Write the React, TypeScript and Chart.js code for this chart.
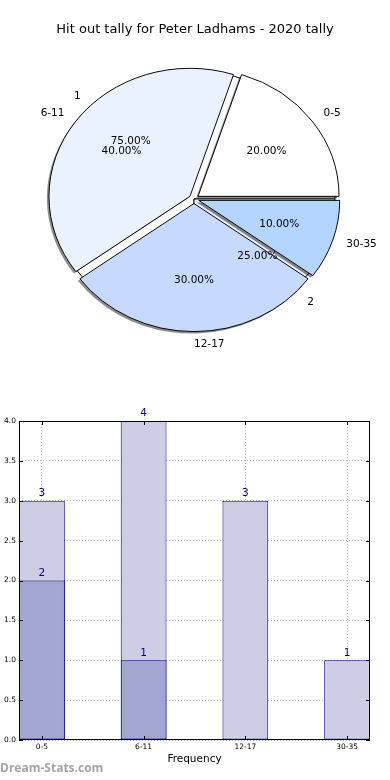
import React, { useEffect, useRef } from 'react';
import { Chart, registerables } from 'chart.js';

Chart.register(...registerables);

// ---- data ----
const chartTitle = 'Hit out tally for Peter Ladhams - 2020 tally';
const rangeLabels = ['0-5', '6-11', '12-17', '30-35'];
const rangeShares = [20, 40, 30, 10];
const tallyLabels = ['1', '2'];
const tallyShares = [75, 25];
const barCategories = ['0-5', '6-11', '12-17', '30-35'];
const barOuterValues = [3, 4, 3, 1];
const barInnerValues: (number | null)[] = [2, 1, null, null];
const barAxisTitle = 'Frequency';
const watermarkText = 'Dream-Stats.com';

// ---- styles ----
const FONT = '"DejaVu Sans", "Liberation Sans", sans-serif';
const rangeColors = ['#ffffff', '#eaf1ff', '#c6d9ff', '#b3d5ff'];
const tallyColors = ['#ffffff', '#eaf1ff'];
const SQUASH = 0.908;
const PIE_RADIUS = 141;
const EXPLODE = 5;
const NAVY = '#000080';

function pieTransform(ctx: CanvasRenderingContext2D, el: any) {
  ctx.translate(el.x, el.y);
  ctx.scale(1, -SQUASH);
  ctx.translate(-el.x, -el.y);
}

// squashes the pie into the reference's ellipse, explodes slices, adds a shadow
const ellipsePlugin = {
  id: 'ellipse',
  beforeDatasetsDraw(chart: any, _args: any, opts: any) {
    const ctx = chart.ctx as CanvasRenderingContext2D;
    const arcs = chart.getDatasetMeta(0).data as any[];
    const explode = (opts && opts.explode) || 0;
    if (explode) {
      arcs.forEach((el) => {
        if (el.__wrapped) return;
        const orig = el.draw;
        el.draw = function (c: CanvasRenderingContext2D, area: any) {
          const mid = (this.startAngle + this.endAngle) / 2;
          c.save();
          c.translate(Math.cos(mid) * explode, Math.sin(mid) * explode);
          orig.call(this, c, area);
          c.restore();
        };
        el.__wrapped = true;
      });
    }
    if (opts && opts.shadow) {
      ctx.save();
      ctx.translate(-2, 2);
      pieTransform(ctx, arcs[0]);
      ctx.fillStyle = 'rgba(0,0,0,0.45)';
      arcs.forEach((el) => {
        const mid = (el.startAngle + el.endAngle) / 2;
        const ox = el.x + Math.cos(mid) * explode;
        const oy = el.y + Math.sin(mid) * explode;
        ctx.beginPath();
        ctx.moveTo(ox, oy);
        ctx.arc(ox, oy, el.outerRadius, el.startAngle, el.endAngle);
        ctx.closePath();
        ctx.fill();
      });
      ctx.restore();
    }
    ctx.save();
    pieTransform(ctx, arcs[0]);
  },
  afterDatasetsDraw(chart: any) {
    chart.ctx.restore();
  },
};

function drawPieText(ctx: CanvasRenderingContext2D, chart: any, labels: string[], values: number[]) {
  const arcs = chart.getDatasetMeta(0).data as any[];
  const total = values.reduce((a, b) => a + b, 0);
  ctx.font = `10.5px ${FONT}`;
  ctx.fillStyle = '#000';
  ctx.textBaseline = 'middle';
  arcs.forEach((el, i) => {
    const mid = (el.startAngle + el.endAngle) / 2;
    const c = Math.cos(mid);
    const s = Math.sin(mid);
    const dOut = el.outerRadius * 1.1 + EXPLODE;
    ctx.textAlign = c > -1e-6 ? 'left' : 'right';
    ctx.fillText(labels[i], el.x + c * dOut, el.y - SQUASH * s * dOut);
    const dIn = el.outerRadius * 0.6 + EXPLODE;
    ctx.textAlign = 'center';
    ctx.fillText(((values[i] / total) * 100).toFixed(2) + '%', el.x + c * dIn, el.y - SQUASH * s * dIn);
  });
}

function makePieText(tally: any) {
  return {
    id: 'pieText',
    afterDraw(chart: any) {
      const ctx = chart.ctx as CanvasRenderingContext2D;
      ctx.save();
      ctx.fillStyle = '#000';
      ctx.font = `13px ${FONT}`;
      ctx.textAlign = 'center';
      ctx.textBaseline = 'middle';
      ctx.fillText(chartTitle, chart.width / 2, 30);
      drawPieText(ctx, chart, rangeLabels, rangeShares);
      drawPieText(ctx, tally, tallyLabels, tallyShares);
      ctx.restore();
    },
  };
}

const barDecor = {
  id: 'barDecor',
  afterDatasetsDraw(chart: any) {
    const ctx = chart.ctx as CanvasRenderingContext2D;
    const a = chart.chartArea;
    const xs = chart.scales.x;
    const ys = chart.scales.y;
    ctx.save();
    ctx.strokeStyle = '#000';
    ctx.lineWidth = 1;
    ctx.strokeRect(a.left + 0.5, a.top + 0.5, a.right - a.left - 1, a.bottom - a.top - 1);
    ctx.beginPath();
    ys.ticks.forEach((t: any) => {
      const py = Math.round(ys.getPixelForValue(t.value)) + 0.5;
      ctx.moveTo(a.left, py);
      ctx.lineTo(a.left + 4, py);
      ctx.moveTo(a.right, py);
      ctx.lineTo(a.right - 4, py);
    });
    xs.ticks.forEach((t: any) => {
      const px = Math.round(xs.getPixelForValue(t.value)) + 0.5;
      ctx.moveTo(px, a.bottom);
      ctx.lineTo(px, a.bottom - 4);
      ctx.moveTo(px, a.top);
      ctx.lineTo(px, a.top + 4);
    });
    ctx.stroke();
    ctx.font = `10.5px ${FONT}`;
    ctx.fillStyle = NAVY;
    ctx.textAlign = 'center';
    ctx.textBaseline = 'bottom';
    chart.data.datasets.forEach((ds: any, di: number) => {
      const meta = chart.getDatasetMeta(di);
      meta.data.forEach((el: any, i: number) => {
        ctx.fillText(String(ds.data[i].y), el.x, el.y - 2);
      });
    });
    ctx.restore();
  },
  afterDraw(chart: any) {
    const ctx = chart.ctx as CanvasRenderingContext2D;
    ctx.save();
    ctx.font = `bold 12px "Open Sans", ${FONT}`;
    ctx.fillStyle = '#a4a4a4';
    ctx.textAlign = 'left';
    ctx.textBaseline = 'middle';
    ctx.fillText(watermarkText, 0, 369);
    ctx.restore();
  },
};

export default function App() {
  const tallyRef = useRef<HTMLCanvasElement>(null);
  const rangeRef = useRef<HTMLCanvasElement>(null);
  const barRef = useRef<HTMLCanvasElement>(null);

  useEffect(() => {
    const pieOptions = (shadow: boolean, explode: number) => ({
      responsive: false,
      animation: false as const,
      events: [] as any[],
      radius: PIE_RADIUS,
      rotation: 90,
      layout: { padding: { left: 0, right: 2, top: 8, bottom: 0 } },
      plugins: {
        legend: { display: false },
        tooltip: { enabled: false },
        ellipse: { shadow, explode },
      },
    });

    const tally = new Chart(tallyRef.current!, {
      type: 'pie',
      data: {
        labels: tallyLabels,
        datasets: [
          {
            data: tallyShares,
            backgroundColor: tallyColors,
            borderColor: '#000',
            borderWidth: 1,
          },
        ],
      },
      options: pieOptions(false, 0) as any,
      plugins: [ellipsePlugin],
    });

    const ranges = new Chart(rangeRef.current!, {
      type: 'pie',
      data: {
        labels: rangeLabels,
        datasets: [
          {
            data: rangeShares,
            backgroundColor: rangeColors,
            borderColor: '#000',
            borderWidth: 1,
          },
        ],
      },
      options: pieOptions(true, EXPLODE) as any,
      plugins: [ellipsePlugin, makePieText(tally)],
    });

    const tickFont = { family: FONT, size: 7.5 };
    const bars = new Chart(barRef.current!, {
      type: 'bar',
      data: {
        datasets: [
          {
            data: barCategories
              .map((_, i) => ({ x: i, y: barInnerValues[i] }))
              .filter((p) => p.y !== null) as any,
            backgroundColor: '#a3a6d0',
            borderColor: NAVY,
            borderWidth: 1,
            borderSkipped: false,
            grouped: false,
            barPercentage: 0.45,
            categoryPercentage: 1,
          } as any,
          {
            data: barCategories.map((_, i) => ({ x: i, y: barOuterValues[i] })) as any,
            backgroundColor: '#cdcee6',
            borderColor: NAVY,
            borderWidth: 1,
            borderSkipped: false,
            grouped: false,
            barPercentage: 0.45,
            categoryPercentage: 1,
          } as any,
        ],
      },
      options: {
        responsive: false,
        animation: false,
        events: [],
        layout: { padding: { left: 0, right: 20, top: 21, bottom: 12 } },
        plugins: { legend: { display: false }, tooltip: { enabled: false } },
        scales: {
          x: {
            type: 'linear',
            min: -0.225,
            max: 3.225,
            offset: false,
            afterBuildTicks: (scale: any) => {
              scale.ticks = barCategories.map((_, i) => ({ value: i }));
            },
            afterFit: (scale: any) => {
              scale.height = 28;
            },
            ticks: {
              font: tickFont,
              color: '#000',
              padding: 3,
              maxRotation: 0,
              autoSkip: false,
              callback: (v: any) => barCategories[Math.round(Number(v))] ?? '',
            },
            grid: { offset: false, drawTicks: false, color: '#b4b4b4', lineWidth: 1 },
            border: { display: false, dash: [1, 2] },
            title: {
              display: true,
              text: barAxisTitle,
              color: '#000',
              font: { family: FONT, size: 10.5 },
              padding: { top: 0, bottom: 2 },
            },
          },
          y: {
            type: 'linear',
            min: 0,
            max: 4,
            afterFit: (scale: any) => {
              scale.width = 19;
            },
            ticks: {
              stepSize: 0.5,
              font: tickFont,
              color: '#000',
              padding: 3,
              callback: (v: any) => Number(v).toFixed(1),
            },
            grid: { drawTicks: false, color: '#b4b4b4', lineWidth: 1 },
            border: { display: false, dash: [1, 2] },
          },
        },
      } as any,
      plugins: [barDecor],
    });

    return () => {
      ranges.destroy();
      tally.destroy();
      bars.destroy();
    };
  }, []);

  const abs = (top: number, h: number): React.CSSProperties => ({
    position: 'absolute',
    left: 0,
    top,
    width: 390,
    height: h,
    display: 'block',
  });

  return (
    <div style={{ position: 'absolute', left: 0, top: 0, width: 390, height: 780, background: '#fff' }}>
      <canvas ref={tallyRef} width={390} height={390} style={abs(0, 390)} />
      <canvas ref={rangeRef} width={390} height={390} style={abs(0, 390)} />
      <canvas ref={barRef} width={390} height={380} style={abs(400, 380)} />
    </div>
  );
}
